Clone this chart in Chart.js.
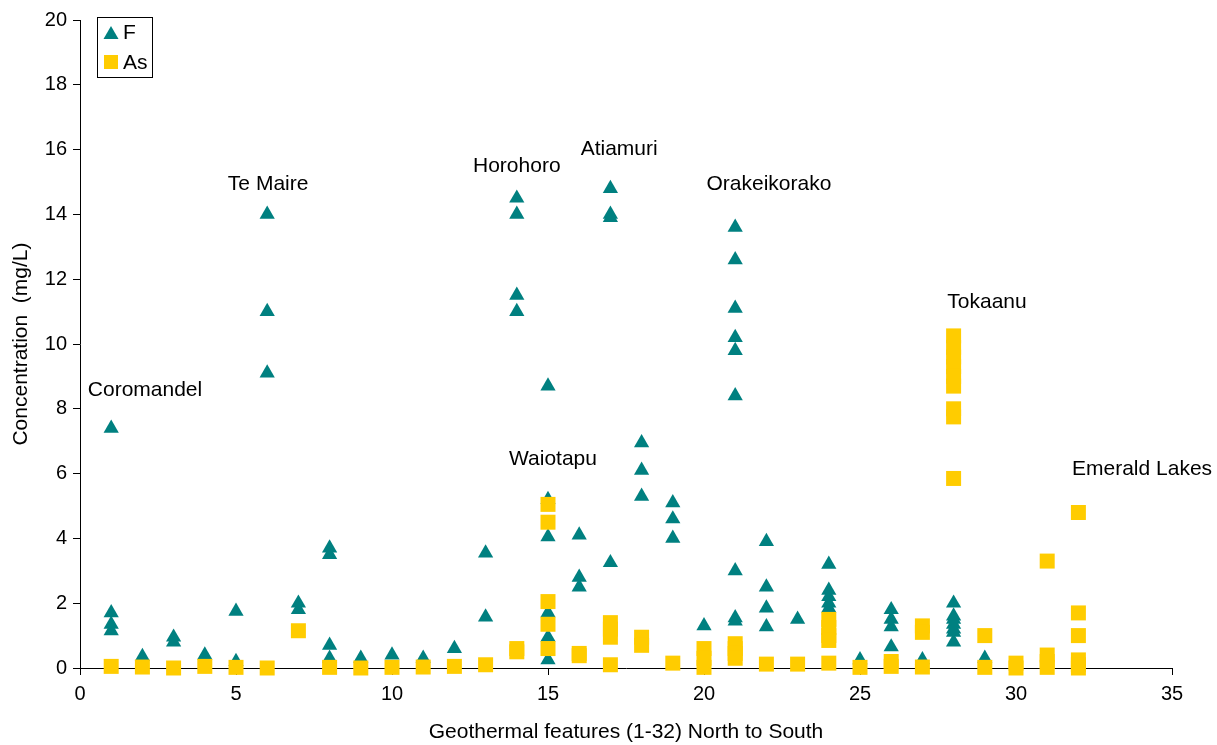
<!DOCTYPE html>
<html>
<head>
<meta charset="utf-8">
<script src="https://cdn.jsdelivr.net/npm/chart.js@4.4.1/dist/chart.umd.min.js"></script>
<style>
html,body{margin:0;padding:0;background:#fff;}
#wrap{width:1217px;height:745px;position:relative;}
</style>
</head>
<body>
<div id="wrap"><canvas id="c" width="1217" height="745"></canvas></div>
<script>
// Fluoride (F) concentrations: feature number and value
const fFeature = [1,1,1,1, 2, 3,3, 4, 5,5, 6,6,6, 7,7, 8,8,8,8, 9, 10, 11, 12, 13,13, 14,14,14,14,
  15,15,15,15,15,15, 16,16,16, 17,17,17,17, 18,18,18, 19,19,19, 20,
  21,21,21,21,21,21,21,21,21, 22,22,22,22, 23, 24,24,24,24,24, 25, 26,26,26,26, 27,
  28,28,28,28,28,28,28, 29];
const fConc = [7.4,1.7,1.35,1.15, 0.35, 0.95,0.8, 0.4, 1.75,0.2, 14.0,11.0,9.1, 2.0,1.8, 3.7,3.5,0.7,0.3, 0.3, 0.4, 0.3, 0.6, 3.55,1.57, 14.5,14.0,11.5,11.0,
  8.7,5.2,4.05,1.7,0.95,0.25, 4.1,2.8,2.5, 14.8,14.0,13.9,3.25, 6.95,6.1,5.3, 5.1,4.6,4.0, 1.3,
  13.6,12.6,11.1,10.2,9.8,8.4,3.0,1.55,1.45, 3.9,2.5,1.85,1.27, 1.5, 3.2,2.4,2.2,2.0,1.85, 0.25, 1.8,1.5,1.27,0.65, 0.25,
  2.0,1.6,1.5,1.35,1.2,1.1,0.8, 0.3];

// Arsenic (As) concentrations
const asFeature = [1, 2, 3, 4, 5, 6, 7, 8, 9, 10, 11, 12, 13, 14,14, 15,15,15,15,15, 16,16, 17,17,17,17, 18,18, 19,
  20,20,20, 21,21,21,21, 22, 23, 24,24,24,24,24, 25, 26,26, 27,27,27,
  28,28,28,28,28,28,28,28,28, 29,29, 30,30, 31,31,31,31, 32,32,32,32,32,32];
const asConc = [0.05, 0.03, 0.0, 0.05, 0.02, 0.0, 1.15, 0.02, 0.0, 0.02, 0.03, 0.05, 0.1, 0.6,0.5, 5.05,4.5,2.05,1.35,0.6, 0.45,0.38, 1.4,1.2,0.95,0.1, 0.95,0.7, 0.15,
  0.6,0.3,0.02, 0.75,0.6,0.45,0.3, 0.12, 0.12, 1.5,1.25,1.0,0.85,0.15, 0.02, 0.2,0.05, 1.3,1.1,0.03,
  10.25,9.9,9.6,9.3,9.0,8.7,8.0,7.75,5.85, 1.0,0.02, 0.15,0.0, 3.3,0.4,0.2,0.02, 4.8,1.7,1.0,0.25,0.1,0.0];

const seriesNames = ['F', 'As'];
const xTicks = [0,5,10,15,20,25,30,35];
const yTicks = [0,2,4,6,8,10,12,14,16,18,20];

// Site labels with anchor positions in data units
const siteNames = ['Coromandel','Te Maire','Horohoro','Atiamuri','Orakeikorako','Waiotapu','Tokaanu','Emerald Lakes'];
const siteX = [0.25, 6.03, 14.0, 17.28, 22.08, 15.16, 29.07, 34.04];
const siteY = [8.58, 14.94, 15.5, 16.0, 14.94, 6.45, 11.3, 6.14];
const siteAlign = ['left','center','center','center','center','center','center','center'];

const TEAL = '#008080';
const YELLOW = '#FFCC00';
const FONT = '"Liberation Sans", Arial, sans-serif';

const zip = (xs, ys) => xs.map((x, i) => ({x: x, y: ys[i]}));

const annotPlugin = {
  id: 'annot',
  afterDatasetsDraw(chart) {
    const ctx = chart.ctx;
    const xs = chart.scales.x, ys = chart.scales.y;
    ctx.save();
    ctx.fillStyle = '#000';
    ctx.font = '21px ' + FONT;
    ctx.textBaseline = 'middle';
    siteNames.forEach((n, i) => {
      ctx.textAlign = siteAlign[i];
      ctx.fillText(n, xs.getPixelForValue(siteX[i]), ys.getPixelForValue(siteY[i]));
    });
    // legend box
    const bx = 97, by = 17, bw = 55, bh = 60;
    ctx.fillStyle = '#fff';
    ctx.fillRect(bx, by, bw, bh);
    ctx.strokeStyle = '#000';
    ctx.lineWidth = 1;
    ctx.strokeRect(bx + 0.5, by + 0.5, bw, bh);
    // triangle
    ctx.fillStyle = TEAL;
    ctx.beginPath();
    ctx.moveTo(111, 26); ctx.lineTo(118.5, 39); ctx.lineTo(103.5, 39); ctx.closePath();
    ctx.fill();
    ctx.fillStyle = YELLOW;
    ctx.fillRect(104, 55, 14, 14);
    ctx.fillStyle = '#000';
    ctx.textAlign = 'left';
    ctx.font = '21px ' + FONT;
    ctx.fillText(seriesNames[0], 123, 33);
    ctx.fillText(seriesNames[1], 123, 63);
    ctx.restore();
  }
};

new Chart(document.getElementById('c'), {
  type: 'scatter',
  data: {
    datasets: [
      { label: seriesNames[0], data: zip(fFeature, fConc), pointStyle: 'triangle', pointRadius: 8.8,
        backgroundColor: TEAL, borderColor: TEAL, borderWidth: 0, order: 1, clip: false },
      { label: seriesNames[1], data: zip(asFeature, asConc), pointStyle: 'rect', pointRadius: 10.6,
        backgroundColor: YELLOW, borderColor: YELLOW, borderWidth: 0, order: 0, clip: false }
    ]
  },
  options: {
    responsive: false,
    animation: false,
    events: [],
    layout: { padding: { top: 20, right: 45, left: 0, bottom: 0 } },
    plugins: { legend: { display: false }, tooltip: { enabled: false } },
    scales: {
      x: {
        type: 'linear', min: 0, max: 35,
        afterBuildTicks: (s) => { s.ticks = xTicks.map(v => ({value: v})); },
        afterFit: (s) => { s.height = 77; },
        grid: { display: true, drawOnChartArea: false, drawTicks: true, tickLength: 7, color: '#000' },
        border: { display: true, color: '#000', width: 1 },
        ticks: { color: '#000', font: { family: FONT, size: 20 }, padding: 7, maxRotation: 0 },
        title: { display: true, text: 'Geothermal features (1-32) North to South', color: '#000',
                 font: { family: FONT, size: 21 }, padding: { top: 12, bottom: 0 } }
      },
      y: {
        type: 'linear', min: 0, max: 20,
        afterBuildTicks: (s) => { s.ticks = yTicks.map(v => ({value: v})); },
        afterFit: (s) => { s.width = 80; },
        grid: { display: true, drawOnChartArea: false, drawTicks: true, tickLength: 7, color: '#000' },
        border: { display: true, color: '#000', width: 1 },
        ticks: { color: '#000', font: { family: FONT, size: 20 }, padding: 6 },
        title: { display: true, text: 'Concentration  (mg/L)', color: '#000',
                 font: { family: FONT, size: 21 }, padding: { top: 9, bottom: 4 } }
      }
    }
  },
  plugins: [annotPlugin]
});
</script>
</body>
</html>
